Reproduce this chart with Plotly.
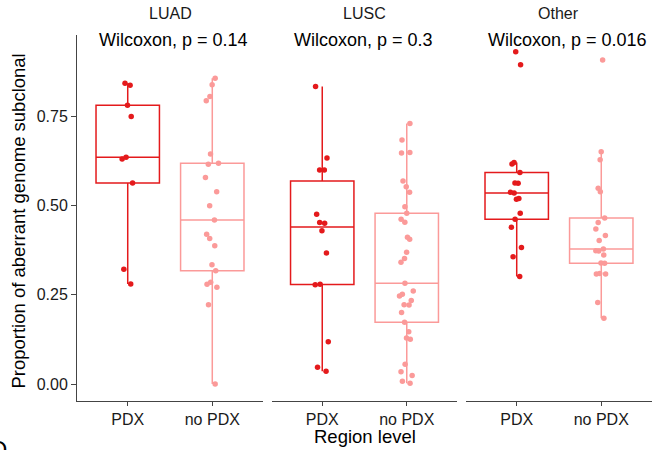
import numpy as np
import plotly.graph_objects as go

# ---------------- data ----------------
panels = ["LUAD", "LUSC", "Other"]
groups = ["PDX", "no PDX"]
p_labels = ["Wilcoxon, p = 0.14", "Wilcoxon, p = 0.3", "Wilcoxon, p = 0.016"]

luad_pdx = [0.842, 0.836, 0.780, 0.749, 0.630, 0.635, 0.563, 0.321, 0.280]
luad_nopdx = [0.856, 0.838, 0.805, 0.793, 0.644, 0.618, 0.615, 0.578, 0.538, 0.499,
              0.459, 0.419, 0.407, 0.387, 0.334, 0.317, 0.285, 0.271, 0.279, 0.222, 0.000]
lusc_pdx = [0.833, 0.633, 0.599, 0.599, 0.475, 0.452, 0.450, 0.429, 0.367, 0.279,
            0.278, 0.118, 0.047, 0.036]
lusc_nopdx = [0.729, 0.683, 0.648, 0.647, 0.568, 0.552, 0.537, 0.496, 0.478, 0.461,
              0.453, 0.411, 0.405, 0.369, 0.351, 0.341, 0.282, 0.260, 0.251, 0.246,
              0.234, 0.222, 0.221, 0.200, 0.173, 0.146, 0.129, 0.125, 0.055, 0.034,
              0.024, 0.008, 0.002]
other_pdx = [0.930, 0.894, 0.620, 0.616, 0.592, 0.563, 0.562, 0.537, 0.535, 0.519,
             0.517, 0.478, 0.461, 0.439, 0.382, 0.356, 0.301]
other_nopdx = [0.907, 0.650, 0.628, 0.548, 0.538, 0.465, 0.452, 0.434, 0.416, 0.402,
               0.378, 0.372, 0.373, 0.361, 0.339, 0.338, 0.308, 0.308, 0.309, 0.228, 0.184]

data = {
    "LUAD": [luad_pdx, luad_nopdx],
    "LUSC": [lusc_pdx, lusc_nopdx],
    "Other": [other_pdx, other_nopdx],
}
colors = {"PDX": "#E41A1C", "no PDX": "#FB9A99"}
y_ticks = [0.0, 0.25, 0.5, 0.75]

FONT = "Liberation Sans, Arial, Helvetica, sans-serif"


def box_stats(vals):
    v = np.sort(np.asarray(vals, dtype=float))
    q1, med, q3 = np.percentile(v, [25, 50, 75])
    iqr = q3 - q1
    lf = v[v >= q1 - 1.5 * iqr].min()
    uf = v[v <= q3 + 1.5 * iqr].max()
    return q1, med, q3, lf, uf


fig = go.Figure()

for pi, panel in enumerate(panels):
    xa = "x" if pi == 0 else f"x{pi + 1}"
    ya = "y" if pi == 0 else f"y{pi + 1}"
    for gi, g in enumerate(groups):
        vals = data[panel][gi]
        q1, med, q3, lf, uf = box_stats(vals)
        col = colors[g]
        # jittered points (box itself invisible)
        fig.add_trace(go.Box(
            x=[g] * len(vals), y=vals, xaxis=xa, yaxis=ya,
            boxpoints="all", jitter=0.27, pointpos=0, width=0.75,
            fillcolor="rgba(0,0,0,0)", line=dict(color="rgba(0,0,0,0)", width=0),
            marker=dict(color=col, size=5.5, line=dict(width=0)),
            whiskerwidth=0, showlegend=False, hoverinfo="y",
        ))
        # box from computed statistics
        fig.add_trace(go.Box(
            x=[g], q1=[q1], median=[med], q3=[q3], lowerfence=[lf], upperfence=[uf],
            xaxis=xa, yaxis=ya, width=0.75, boxpoints=False,
            fillcolor="rgba(0,0,0,0)", line=dict(color=col, width=1.5),
            whiskerwidth=0, showlegend=False,
        ))

domains = [[0.0, 0.3235], [0.3383, 0.6617], [0.6765, 1.0]]
axis_common = dict(
    type="category", categoryorder="array", categoryarray=groups,
    range=[-0.6, 1.6], showline=True, linecolor="#444444", linewidth=1,
    ticks="outside", ticklen=4, tickcolor="#444444", tickwidth=1,
    showgrid=False, zeroline=False,
    tickfont=dict(family=FONT, size=16, color="#1a1a1a"),
)
yrange = [-0.0476, 0.977]
layout_axes = {}
for pi in range(3):
    k = "" if pi == 0 else str(pi + 1)
    layout_axes[f"xaxis{k}"] = dict(axis_common, domain=domains[pi], anchor=f"y{k}")
    if pi == 0:
        layout_axes["yaxis"] = dict(
            range=yrange, tickvals=y_ticks, tickformat=".2f",
            showline=True, linecolor="#444444", linewidth=1,
            ticks="outside", ticklen=5, tickcolor="#444444",
            showgrid=False, zeroline=False, anchor="x",
            tickfont=dict(family=FONT, size=16, color="#1a1a1a"),
        )
    else:
        layout_axes[f"yaxis{k}"] = dict(
            range=yrange, showline=False, showticklabels=False, ticks="",
            showgrid=False, zeroline=False, anchor=f"x{k}", matches="y",
        )

annotations = []
for pi, panel in enumerate(panels):
    k = "" if pi == 0 else str(pi + 1)
    annotations.append(dict(
        text=panel, xref=f"x{k} domain", yref="paper", x=0.5, y=1.06,
        xanchor="center", yanchor="middle", showarrow=False,
        font=dict(family=FONT, size=16, color="#1a1a1a"),
    ))
    annotations.append(dict(
        text=p_labels[pi], xref=f"x{k}", yref=f"y{k}", x=-0.36, y=0.962,
        xanchor="left", yanchor="middle", showarrow=False,
        font=dict(family=FONT, size=18, color="black"),
    ))

annotations.append(dict(
    text="Proportion of aberrant genome subclonal", xref="paper", yref="paper",
    x=-0.1009, y=0.493, textangle=-90, xanchor="center", yanchor="middle",
    showarrow=False, font=dict(family=FONT, size=18.5, color="black"),
))
annotations.append(dict(
    text="Region level", xref="paper", yref="paper", x=0.5, y=-0.098,
    xanchor="center", yanchor="middle", showarrow=False,
    font=dict(family=FONT, size=18.5, color="black"),
))
annotations.append(dict(
    text="D", xref="paper", yref="paper", x=-0.118, y=-0.091,
    xanchor="right", yanchor="top", showarrow=False,
    font=dict(family=FONT, size=24, color="black"),
))

fig.update_layout(
    width=661, height=450,
    margin=dict(l=77, r=9, t=35, b=49),
    paper_bgcolor="white", plot_bgcolor="white",
    boxmode="overlay", showlegend=False,
    annotations=annotations,
    **layout_axes,
)

fig.write_html("out.html")
